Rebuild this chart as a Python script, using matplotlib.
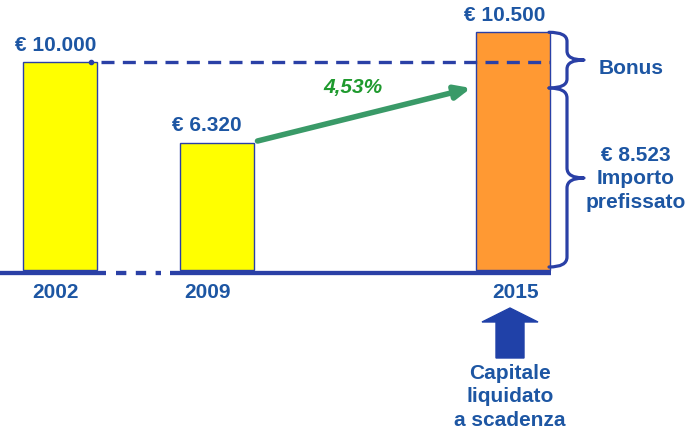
import matplotlib
matplotlib.use("Agg")
import matplotlib.pyplot as plt
from matplotlib.path import Path
from matplotlib.patches import PathPatch, Polygon

plt.rcParams['font.family'] = ['Liberation Sans', 'DejaVu Sans']

# --- dati ---
years = ['2002', '2009', '2015']
values = [10000, 6320, 10500]              # importi riportati sulle etichette
drawn_heights = [10000, 6115, 11445]       # altezze come disegnate (non in scala)
value_labels = ['€ 10.000', '€ 6.320', '€ 10.500']
importo = 8523
growth_label = '4,53%'
bonus_text = 'Bonus'
importo_text = '€ 8.523\nImporto\nprefissato'
bottom_text = 'Capitale\nliquidato\na scadenza'

# --- stile / layout ---
TXT = '#1d56a3'
LINE = '#2a40a6'
GREEN_ARROW = '#3a9a68'
GREEN_TXT = '#1f9a2e'
FS = 15
bar_x = [59.5, 216.5, 513]      # centri in pixel
bar_w = 74
bar_colors = ['#ffff00', '#ffff00', '#ff9933']
PX = 0.02077                    # pixel per euro

fig = plt.figure(figsize=(7, 4.3), dpi=100)
ax = fig.add_axes([0, 0, 1, 1])
ax.set_xlim(0, 700)
ax.set_ylim(-160 / PX, 270 / PX)
ax.axis('off')

def ey(px):
    # converte pixel (dall'alto) in euro sull'asse
    return (270 - px) / PX

# barre
ax.bar(bar_x, drawn_heights, width=bar_w, color=bar_colors,
       edgecolor=LINE, linewidth=1, zorder=3)

# linea di base interrotta
yb = ey(272.5)
ax.plot([0, 106], [yb, yb], color=LINE, lw=3.1, solid_capstyle='butt', zorder=2)
ax.plot([116, 161], [yb, yb], color=LINE, lw=3.1, linestyle=(0, (2.4, 2.2)),
        dash_capstyle='butt', zorder=2)
ax.plot([170, 551], [yb, yb], color=LINE, lw=3.1, solid_capstyle='butt', zorder=2)

# linea tratteggiata del livello 2002
lvl = values[0]
ax.plot([bar_x[0] + bar_w / 2 - 6], [lvl], 'o', color=LINE, ms=3, zorder=5)
ax.plot([101, bar_x[2] + bar_w / 2], [lvl, lvl], color=LINE, lw=2.4,
        linestyle=(0, (3.9, 2.5)), dash_capstyle='butt', zorder=5)

# etichette dei valori
for x, h, lab, dx in zip(bar_x, drawn_heights, value_labels, [-4, -10, -8]):
    ax.annotate(lab, (x, h), xytext=(dx, 17), textcoords='offset pixels',
                ha='center', va='center', fontsize=FS, fontweight='bold', color=TXT)

# anni
for x, yr, dx in zip(bar_x, years, [-4, -9, 3]):
    ax.annotate(yr, (x, 0), xytext=(dx, -23), textcoords='offset pixels',
                ha='center', va='center', fontsize=FS, fontweight='bold', color=TXT)

# freccia verde di crescita
ax.annotate('', xy=(bar_x[2] - bar_w / 2 - 5, ey(88)),
            xytext=(bar_x[1] + bar_w / 2 + 4, ey(141)),
            arrowprops=dict(arrowstyle='-|>,head_length=0.9,head_width=0.4',
                            color=GREEN_ARROW, lw=4, shrinkA=0, shrinkB=0),
            zorder=4)
ax.text(353, ey(88), growth_label, ha='center', va='center', fontsize=FS,
        fontweight='bold', fontstyle='italic', color=GREEN_TXT)


def brace(y0, y1, ym, x0, x1, x2, r):
    verts = [(x0, y1), (x1, y1), (x1, y1 - r), (x1, ym + r), (x1, ym), (x2, ym),
             (x1, ym), (x1, ym - r), (x1, y0 + r), (x1, y0), (x0, y0)]
    codes = [Path.MOVETO, Path.CURVE3, Path.CURVE3, Path.LINETO, Path.CURVE3,
             Path.CURVE3, Path.CURVE3, Path.CURVE3, Path.LINETO, Path.CURVE3,
             Path.CURVE3]
    ax.add_patch(PathPatch(Path(verts, codes), fill=False, edgecolor=LINE,
                           lw=2.3, capstyle='round', joinstyle='round', zorder=4))

right = bar_x[2] + bar_w / 2
top = drawn_heights[2]
brace(ey(88), top, ey(60), right - 1, right + 17, right + 34, 9 / PX)
brace(ey(267), ey(88), ey(178), right - 1, right + 17, right + 34, 10 / PX)

ax.text(631, ey(69), bonus_text, ha='center', va='center', fontsize=FS,
        fontweight='bold', color=TXT)
ax.text(636, ey(179), importo_text, ha='center', va='center', fontsize=FS,
        fontweight='bold', color=TXT, linespacing=1.3)

# freccia in basso
ax.add_patch(Polygon([(496, ey(358)), (524, ey(358)), (524, ey(322)), (538, ey(322)),
                      (510, ey(308)), (482, ey(322)), (496, ey(322))],
                     closed=True, color='#2041a8', zorder=4))
ax.text(510, ey(397), bottom_text, ha='center', va='center', fontsize=FS,
        fontweight='bold', color=TXT, linespacing=1.3)

fig.savefig('out.png', dpi=100)
